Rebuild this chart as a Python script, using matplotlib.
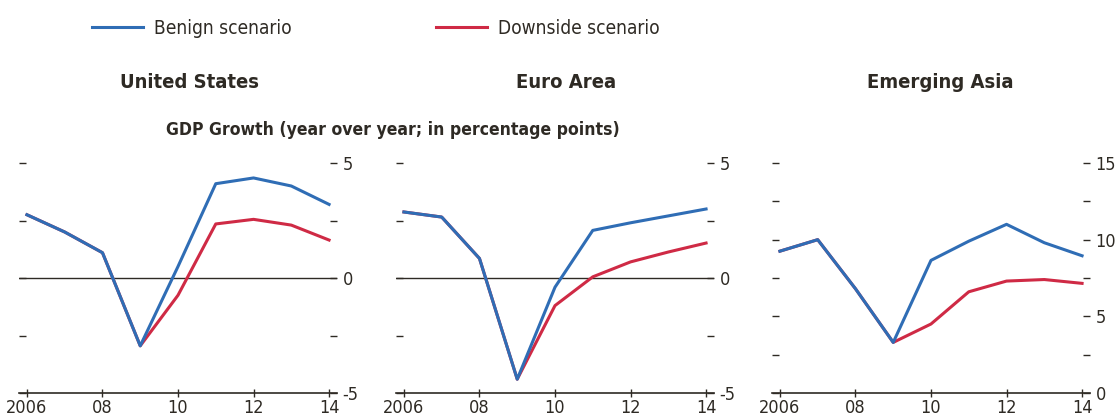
"""GDP growth under benign and downside scenarios for three regions."""

import matplotlib
matplotlib.use("Agg")
import matplotlib.pyplot as plt
from matplotlib.lines import Line2D
from matplotlib.ticker import FixedLocator

plt.rcParams["font.family"] = ["DejaVu Sans"]
plt.rcParams["font.stretch"] = "condensed"

years = [2006, 2007, 2008, 2009, 2010, 2011, 2012, 2013, 2014]
tick_years = [2006, 2008, 2010, 2012, 2014]
tick_labels = ["2006", "08", "10", "12", "14"]

regions = ["United States", "Euro Area", "Emerging Asia"]

us_benign = [2.75, 2.0, 1.1, -2.95, 0.5, 4.1, 4.35, 4.0, 3.2]
us_downside = [2.75, 2.0, 1.1, -2.95, -0.75, 2.35, 2.55, 2.3, 1.65]
ea_benign = [2.87, 2.65, 0.85, -4.4, -0.4, 2.07, 2.4, 2.7, 3.0]
ea_downside = [2.87, 2.65, 0.85, -4.4, -1.2, 0.05, 0.7, 1.13, 1.52]
asia_benign = [9.25, 10.0, 6.8, 3.3, 8.65, 9.9, 11.0, 9.8, 8.95]
asia_downside = [9.25, 10.0, 6.8, 3.3, 4.5, 6.6, 7.3, 7.4, 7.15]

benign = [us_benign, ea_benign, asia_benign]
downside = [us_downside, ea_downside, asia_downside]
y_limits = [(-5, 5), (-5, 5), (0, 15)]
y_major = [[-5, 0, 5], [-5, 0, 5], [0, 5, 10, 15]]
y_minor = [[-2.5, 2.5], [-2.5, 2.5], [2.5, 7.5, 12.5]]

BLUE = "#2f6db5"
RED = "#cf2a45"
INK = "#2e2a24"

fig = plt.figure(figsize=(11.16, 4.18), dpi=100)
W, H = 1116, 418
lefts = [19, 396, 772]
width = 318
bottom, top = 393, 163
title_x = [190, 566, 940]

for i, region in enumerate(regions):
    ax = fig.add_axes([lefts[i] / W, 1 - bottom / H, width / W, (bottom - top) / H])
    ax.plot(years, downside[i], color=RED, lw=2.2)
    ax.plot(years, benign[i], color=BLUE, lw=2.2)
    ax.set_xlim(2005.79, 2014.21)
    ax.set_ylim(*y_limits[i])
    if y_limits[i][0] < 0:
        ax.axhline(0, color=INK, lw=1, zorder=1)

    for side in ["top", "left", "right"]:
        ax.spines[side].set_visible(False)
    ax.spines["bottom"].set_color(INK)
    ax.spines["bottom"].set_linewidth(1.2)

    ax.set_xticks(tick_years)
    ax.set_xticklabels(tick_labels)
    ax.tick_params(axis="x", direction="inout", length=6, width=1, color=INK,
                   labelsize=13, pad=1, labelcolor=INK)

    ax.yaxis.set_major_locator(FixedLocator(y_major[i]))
    ax.yaxis.set_minor_locator(FixedLocator(y_minor[i]))
    ax.yaxis.set_ticks_position("both")
    ax.tick_params(axis="y", which="both", direction="in", length=5, width=1,
                   color=INK, left=True, right=True, labelleft=False,
                   labelright=True, labelsize=13, pad=4, labelcolor=INK)
    ax.set_yticklabels([str(v) for v in y_major[i]])

    fig.text(title_x[i] / W, 1 - 82 / H, region, ha="center", va="center",
             fontsize=14.5, fontweight="bold", color=INK)

fig.text(393 / W, 1 - 130 / H, "GDP Growth (year over year; in percentage points)",
         ha="center", va="center", fontsize=12.6, fontweight="bold", color=INK)

handles = [Line2D([], [], color=BLUE, lw=2.2), Line2D([], [], color=RED, lw=2.2)]
fig.legend(handles, ["Benign scenario", "Downside scenario"], loc="center left",
           bbox_to_anchor=(92 / W, 1 - 28 / H), ncol=2, frameon=False,
           fontsize=13.7, handlelength=2.7, handletextpad=0.55, columnspacing=7.6,
           borderpad=0, borderaxespad=0, labelcolor=INK)

fig.savefig("out.png", dpi=100)
